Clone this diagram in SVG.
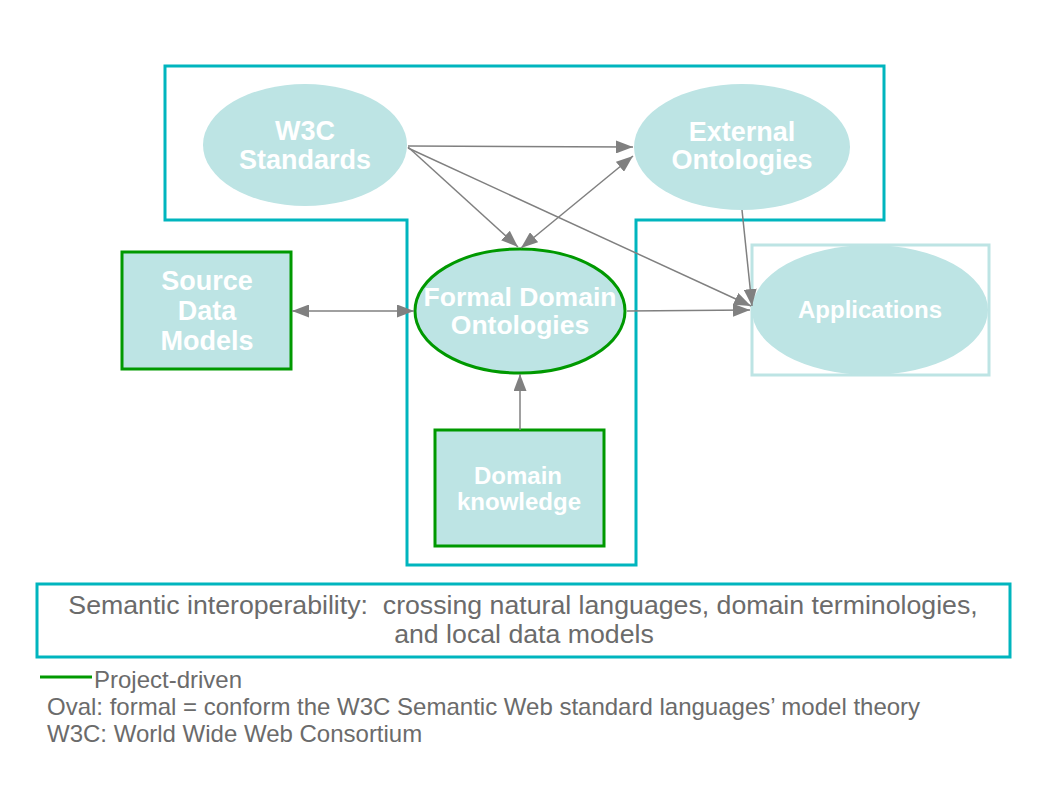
<svg xmlns="http://www.w3.org/2000/svg" width="1058" height="794" viewBox="0 0 1058 794">
<style>
.frame{fill:none;stroke:#00b5be;stroke-width:3}
.node{fill:#bde4e4}
.proj{stroke:#009900;stroke-width:3}
.lbl{fill:#ffffff;font-family:"Liberation Sans",Arial,sans-serif;font-weight:bold;text-anchor:middle}
.note{fill:#6b6b6b;font-family:"Liberation Sans",Arial,sans-serif}
.conn{stroke:#808080;stroke-width:1.5;fill:none;marker-end:url(#ah)}
.bi{marker-start:url(#ah)}
</style>
<defs>
<marker id="ah" markerUnits="userSpaceOnUse" markerWidth="17" markerHeight="13" refX="17" refY="6.5" orient="auto-start-reverse">
<path d="M0,0 L17,6.5 L0,13 z" fill="#808080"/>
</marker>
</defs>
<rect width="1058" height="794" fill="#ffffff"/>
<g id="tframe">
<path class="frame" d="M165,66 H884 V220 H636 V565 H407 V220 H165 Z"/>
</g>
<g id="w3c">
<ellipse class="node" cx="305" cy="145" rx="102" ry="61"/>
<text class="lbl" font-size="27" x="305" y="140">W3C</text>
<text class="lbl" font-size="27" x="305" y="169">Standards</text>
</g>
<g id="external">
<ellipse class="node" cx="742" cy="147" rx="108" ry="63"/>
<text class="lbl" font-size="27" x="742" y="141">External</text>
<text class="lbl" font-size="27" x="742" y="169">Ontologies</text>
</g>
<g id="source">
<rect class="node proj" x="122" y="252" width="169" height="117"/>
<text class="lbl" font-size="27" x="207" y="290">Source</text>
<text class="lbl" font-size="27" x="207" y="320">Data</text>
<text class="lbl" font-size="27" x="207" y="350">Models</text>
</g>
<g id="formal">
<ellipse class="node proj" cx="520" cy="311" rx="105" ry="62"/>
<text class="lbl" font-size="26.5" x="520" y="306">Formal Domain</text>
<text class="lbl" font-size="26.5" x="520" y="334">Ontologies</text>
</g>
<g id="applications">
<rect x="752" y="245" width="237" height="130" fill="none" stroke="#bde4e4" stroke-width="3"/>
<ellipse class="node" cx="870" cy="310" rx="118" ry="65"/>
<text class="lbl" font-size="24" x="870" y="318">Applications</text>
</g>
<g id="domain">
<rect class="node proj" x="435" y="430" width="169" height="116"/>
<text class="lbl" font-size="24" x="518" y="484">Domain</text>
<text class="lbl" font-size="24" x="519" y="510">knowledge</text>
</g>
<g id="connectors">
<line class="conn" x1="408" y1="146" x2="633" y2="147"/>
<line class="conn" x1="408" y1="147" x2="518" y2="247"/>
<line class="conn" x1="408" y1="148" x2="751" y2="306"/>
<line class="conn bi" x1="521" y1="248" x2="633" y2="156"/>
<line class="conn" x1="742" y1="210" x2="752" y2="306"/>
<line class="conn bi" x1="292" y1="311" x2="414" y2="311"/>
<line class="conn" x1="627" y1="311" x2="750" y2="310"/>
<line class="conn" x1="520" y1="430" x2="520" y2="374"/>
</g>
<g id="semantic">
<rect class="frame" x="37" y="584" width="973" height="73"/>
<text class="note" font-size="26.7" x="523" y="614" text-anchor="middle" xml:space="preserve">Semantic interoperability:  crossing natural languages, domain terminologies,</text>
<text class="note" font-size="26.7" x="524" y="643" text-anchor="middle">and local data models</text>
</g>
<g id="legend">
<line x1="40" y1="677" x2="92" y2="677" stroke="#009900" stroke-width="3"/>
<text class="note" font-size="24" x="94" y="688">Project-driven</text>
<text class="note" font-size="24" x="47" y="715">Oval: formal = conform the W3C Semantic Web standard languages’ model theory</text>
<text class="note" font-size="24" x="47" y="742">W3C: World Wide Web Consortium</text>
</g>
</svg>
